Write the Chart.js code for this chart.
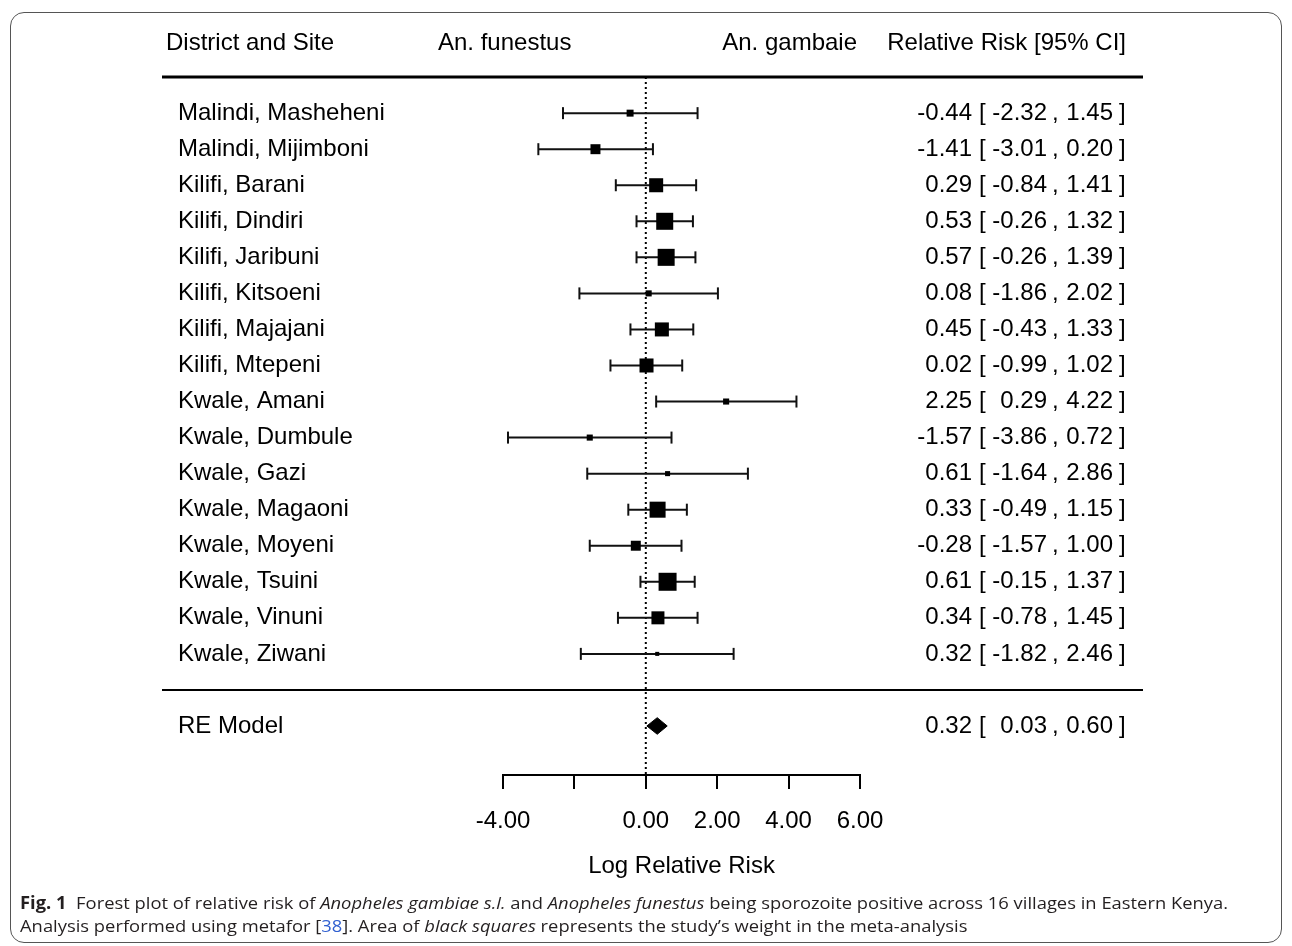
<!DOCTYPE html>
<html>
<head>
<meta charset="utf-8">
<script src="https://cdn.jsdelivr.net/npm/chart.js@4.4.1/dist/chart.umd.min.js"></script>
<style>
  html, body { margin: 0; padding: 0; background: #fff; }
  #wrap { position: relative; width: 1292px; height: 946px; overflow: hidden; }
  #frame { position: absolute; left: 10px; top: 12px; width: 1272px; height: 931px;
           border: 1px solid #555; border-radius: 14px; box-sizing: border-box; }
  #c { position: absolute; left: 0; top: 0; }
  #caption { position: absolute; left: 20px; top: 891px; font-family: 'Open Sans', 'Noto Sans', sans-serif;
             font-size: 17px; line-height: 23px; color: #231f20; }
  #caption .ln { white-space: nowrap; transform-origin: 0 0; }
  #caption .ref { color: #2f5fd0; }
</style>
</head>
<body>
<div id="wrap">
  <div id="frame"></div>
  <canvas id="c" width="1292" height="946"></canvas>
  <div id="caption">
    <div class="ln"><b>Fig. 1</b>&nbsp; Forest plot of relative risk of <i>Anopheles gambiae s.l.</i> and <i>Anopheles funestus</i> being sporozoite positive across 16 villages in Eastern Kenya.</div>
    <div class="ln">Analysis performed using metafor [<span class="ref">38</span>]. Area of <i>black squares</i> represents the study’s weight in the meta-analysis</div>
  </div>
</div>
<script>
// data
var sites = ['Malindi, Masheheni', 'Malindi, Mijimboni', 'Kilifi, Barani', 'Kilifi, Dindiri',
             'Kilifi, Jaribuni', 'Kilifi, Kitsoeni', 'Kilifi, Majajani', 'Kilifi, Mtepeni',
             'Kwale, Amani', 'Kwale, Dumbule', 'Kwale, Gazi', 'Kwale, Magaoni',
             'Kwale, Moyeni', 'Kwale, Tsuini', 'Kwale, Vinuni', 'Kwale, Ziwani'];
var estimates = [-0.44, -1.41, 0.29, 0.53, 0.57, 0.08, 0.45, 0.02, 2.25, -1.57, 0.61, 0.33, -0.28, 0.61, 0.34, 0.32];
var lower     = [-2.32, -3.01, -0.84, -0.26, -0.26, -1.86, -0.43, -0.99, 0.29, -3.86, -1.64, -0.49, -1.57, -0.15, -0.78, -1.82];
var upper     = [1.45, 0.20, 1.41, 1.32, 1.39, 2.02, 1.33, 1.02, 4.22, 0.72, 2.86, 1.15, 1.00, 1.37, 1.45, 2.46];
// study weights in % (estimated from square areas)
var weights   = [2.1, 4.3, 8.5, 12.5, 12.5, 1.6, 8.5, 8.5, 1.6, 1.6, 1.1, 11.1, 4.3, 14.0, 7.3, 0.7];
var reModel = { label: 'RE Model', est: 0.32, lo: 0.03, hi: 0.60 };
var headers = ['District and Site', 'An. funestus', 'An. gambaie', 'Relative Risk [95% CI]'];
var tickValues = [-4, -2, 0, 2, 4, 6];
var tickLabels = ['-4.00', '', '0.00', '2.00', '4.00', '6.00'];

var FONT = "'Liberation Sans', Arial, sans-serif";
var yMin = -2.36, yMax = 19;
var maxW = Math.max.apply(null, weights);

function rowY(i) { return sites.length - i; }
function side(w) { return 18 * Math.sqrt(w / maxW); }
function fmt(v) { return v.toFixed(2); }

var ciSets = sites.map(function (s, i) {
  return {
    data: [{ x: lower[i], y: rowY(i) }, { x: upper[i], y: rowY(i) }],
    showLine: true, borderColor: '#111', borderWidth: 2,
    pointStyle: 'line', pointRotation: 90, pointRadius: 6,
    pointBorderColor: '#111', pointBorderWidth: 2, clip: false
  };
});

var squares = {
  data: estimates.map(function (e, i) { return { x: e, y: rowY(i) }; }),
  pointStyle: 'rect',
  pointRadius: weights.map(function (w) { return side(w) / Math.SQRT2; }),
  backgroundColor: '#000', borderWidth: 0
};

var dh = 0.23;
var diamondTop = {
  data: [{ x: reModel.lo, y: -1 }, { x: reModel.est, y: -1 + dh }, { x: reModel.hi, y: -1 }],
  showLine: true, fill: { value: -1 }, backgroundColor: '#000', borderColor: '#000', borderWidth: 1, pointRadius: 0
};
var diamondBottom = {
  data: [{ x: reModel.lo, y: -1 }, { x: reModel.est, y: -1 - dh }, { x: reModel.hi, y: -1 }],
  showLine: true, fill: { value: -1 }, backgroundColor: '#000', borderColor: '#000', borderWidth: 1, pointRadius: 0
};

var refLine = {
  data: [{ x: 0, y: 17 }, { x: 0, y: yMin }],
  showLine: true, borderColor: '#000', borderWidth: 2, borderDash: [2, 3], pointRadius: 0, clip: false
};

var forestText = {
  id: 'forestText',
  beforeDatasetsDraw: function (chart) {
    var ctx = chart.ctx, y = chart.scales.y;
    ctx.save();
    ctx.strokeStyle = '#000';
    ctx.lineWidth = 3;
    ctx.beginPath();
    ctx.moveTo(162, y.getPixelForValue(17));
    ctx.lineTo(1143, y.getPixelForValue(17));
    ctx.stroke();
    ctx.lineWidth = 2;
    ctx.beginPath();
    ctx.moveTo(162, y.getPixelForValue(0));
    ctx.lineTo(1143, y.getPixelForValue(0));
    ctx.stroke();
    ctx.restore();
  },
  afterDraw: function (chart) {
    var ctx = chart.ctx, y = chart.scales.y;
    ctx.save();
    ctx.fillStyle = '#000';
    ctx.font = '24px ' + FONT;
    ctx.textBaseline = 'middle';
    var hy = y.getPixelForValue(18) + 2;
    ctx.textAlign = 'left';
    ctx.fillText(headers[0], 166, hy);
    ctx.fillText(headers[1], 438, hy);
    ctx.textAlign = 'right';
    ctx.fillText(headers[2], 857, hy);
    ctx.fillText(headers[3], 1126, hy);

    function ciText(e, lo, hi, py) {
      ctx.textAlign = 'right';
      ctx.fillText(fmt(e), 972, py);
      ctx.fillText(fmt(lo), 1047, py);
      ctx.fillText(fmt(hi), 1113, py);
      ctx.textAlign = 'left';
      ctx.fillText('[', 979, py);
      ctx.fillText(',', 1052, py);
      ctx.fillText(']', 1119, py);
    }
    sites.forEach(function (s, i) {
      var py = y.getPixelForValue(rowY(i));
      ctx.textAlign = 'left';
      ctx.fillText(s, 178, py);
      ciText(estimates[i], lower[i], upper[i], py);
    });
    var ry = y.getPixelForValue(-1);
    ctx.textAlign = 'left';
    ctx.fillText(reModel.label, 178, ry);
    ciText(reModel.est, reModel.lo, reModel.hi, ry);
    ctx.restore();
  }
};

var chart = new Chart(document.getElementById('c').getContext('2d'), {
  type: 'scatter',
  data: { datasets: [squares, diamondTop, diamondBottom].concat(ciSets).concat([refLine]) },
  options: {
    responsive: false,
    devicePixelRatio: 1,
    animation: false,
    layout: { autoPadding: false, padding: { left: 503, right: 432, top: 5, bottom: 59 } },
    plugins: { legend: { display: false }, tooltip: { enabled: false } },
    scales: {
      x: {
        type: 'linear', min: -4, max: 6,
        afterBuildTicks: function (s) { s.ticks = tickValues.map(function (v) { return { value: v }; }); },
        afterFit: function (s) { s.height = 112; },
        ticks: {
          autoSkip: false, maxRotation: 0, padding: 18, color: '#000',
          font: { family: FONT, size: 24 },
          callback: function (v, i) { return tickLabels[i]; }
        },
        grid: { drawOnChartArea: false, drawTicks: true, tickLength: 14, color: '#000', lineWidth: 2 },
        border: { display: true, color: '#000', width: 2 },
        title: { display: true, text: 'Log Relative Risk', color: '#000',
                 font: { family: FONT, size: 24 }, padding: { top: 0, bottom: 6 } }
      },
      y: { type: 'linear', display: false, min: yMin, max: yMax }
    }
  },
  plugins: [forestText]
});

// fit caption lines to the width they take in the figure
var lines = document.querySelectorAll('#caption .ln');
var target = 1208;
var sx = target / lines[0].scrollWidth;
lines.forEach(function (l) { l.style.transform = 'scaleX(' + sx + ')'; });
</script>
</body>
</html>
